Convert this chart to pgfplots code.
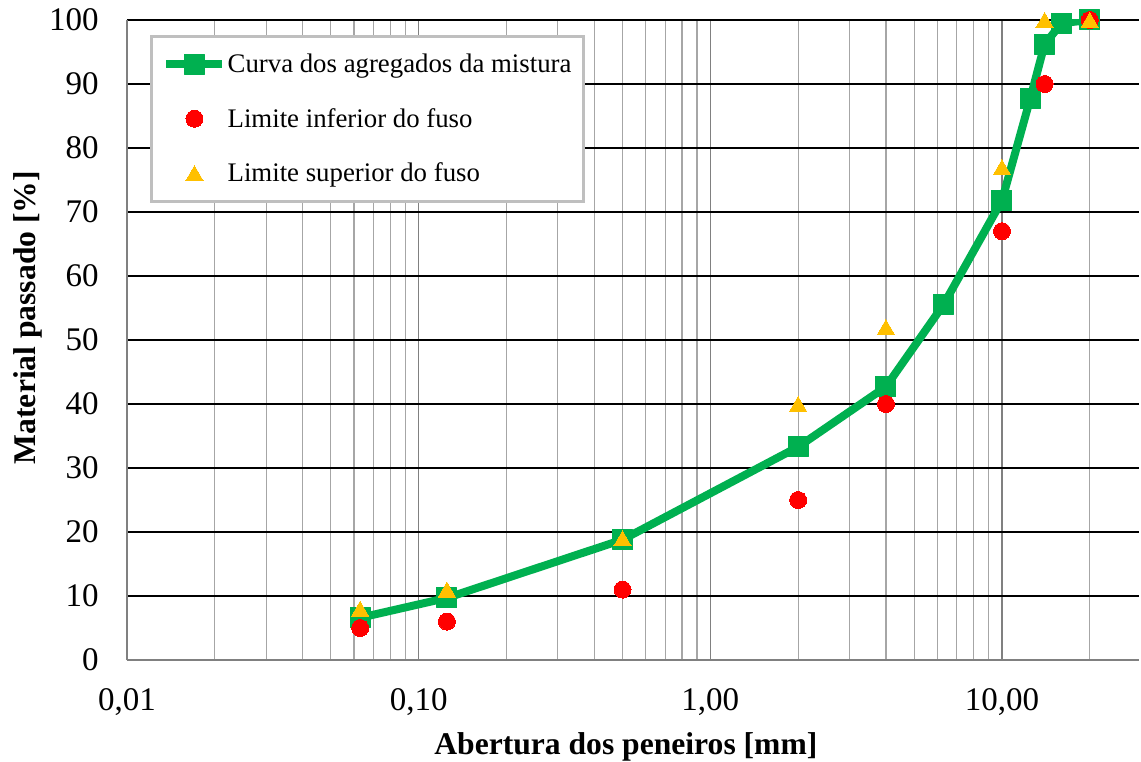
\documentclass[border=0pt]{standalone}
\usepackage{fontspec}
\setmainfont{Liberation Serif}
\usepackage{pgfplots}
\pgfplotsset{compat=1.18}

\definecolor{curva}{HTML}{00B050}
\definecolor{inferior}{HTML}{FF0000}
\definecolor{superior}{HTML}{FFC000}
\definecolor{gridmaj}{HTML}{808080}
\definecolor{gridmin}{HTML}{A6A6A6}
\definecolor{legborder}{HTML}{BFBFBF}

\newcommand{\tickfont}{\fontsize{16.5bp}{19bp}\selectfont}
\newcommand{\labelfont}{\fontsize{15.8bp}{18bp}\selectfont\bfseries}
\newcommand{\legendfont}{\fontsize{13.4bp}{16bp}\selectfont}

\begin{document}
\begin{tikzpicture}
\useasboundingbox (0,0) rectangle (570.5bp,381bp);
\begin{axis}[
  at={(63.5bp,51bp)}, anchor=south west,
  scale only axis, width=506bp, height=320bp,
  xmode=log, xmin=0.01, xmax=29.5,
  ymin=0, ymax=100,
  xtick={0.01,0.1,1,10},
  xticklabels={{0,01},{0,10},{1,00},{10,00}},
  minor xtick={0.02,0.03,0.04,0.05,0.06,0.07,0.08,0.09,
               0.2,0.3,0.4,0.5,0.6,0.7,0.8,0.9,
               2,3,4,5,6,7,8,9,20},
  ytick={0,10,...,100},
  grid=both,
  major x grid style={draw=gridmaj, line width=0.8bp},
  minor x grid style={draw=gridmin, line width=0.6bp},
  major y grid style={draw=black, line width=0.7bp},
  major tick length=0pt, minor tick length=0pt,
  axis lines*=left,
  axis line style={draw=gridmaj, line width=0.8bp},
  /pgf/number format/assume math mode=true,
  tick label style={font=\tickfont},
  yticklabel style={inner sep=0pt, anchor=east, xshift=-14bp},
  xticklabel style={inner sep=0pt, anchor=north, yshift=-14bp},
  xlabel={Abertura dos peneiros [mm]},
  ylabel={Material passado [\%]},
  label style={font=\labelfont, inner sep=0pt},
  xlabel style={at={(axis description cs:0.493,-0.1469)}, anchor=base},
  ylabel style={at={(axis description cs:-0.0909,0.535)}, anchor=base},
  legend cell align=left,
  legend style={
    at={(axis description cs:0.0227,0.977)}, anchor=north west,
    draw=legborder, line width=1.5bp, fill=white,
    inner xsep=5.5bp, inner ysep=5bp, row sep=9.25bp,
    font=\legendfont,
    nodes={inner ysep=1bp, inner xsep=0.6bp, text height=12.3bp, text depth=3.7bp},
  },
  legend image code/.code={
    \draw[mark repeat=2, mark phase=2, #1]
      plot coordinates {(0bp,0bp) (14bp,0bp) (28bp,0bp)};
  },
]
% mistura de agregados
\addplot[curva, line width=4bp, line join=round,
  mark=square*, mark size=5bp,
  mark options={solid, fill=curva, draw=curva, line width=0.5bp, rounded corners=1bp}]
  coordinates {
  (0.063,6.6) (0.125,9.7) (0.5,18.8) (2,33.3) (4,42.7) (6.3,55.5)
  (10,71.8) (12.5,87.7) (14,96.2) (16,99.5) (20,100)
};
\addlegendentry{Curva dos agregados da mistura}
% limite inferior
\addplot[only marks, mark=*, mark size=4.25bp,
  mark options={fill=inferior, draw=inferior, line width=0pt}]
  coordinates {
  (0.063,5) (0.125,6) (0.5,11) (2,25) (4,40) (10,67) (14,90) (20,100)
};
\addlegendentry{Limite inferior do fuso}
% limite superior
\addplot[only marks, mark=triangle*, mark size=5bp,
  mark options={fill=superior, draw=superior, line width=0pt, yshift=-1.25bp}]
  coordinates {
  (0.063,8) (0.125,11) (0.5,19) (2,40) (4,52) (10,77) (14,100) (20,100)
};
\addlegendentry{Limite superior do fuso}
\end{axis}
\end{tikzpicture}
\end{document}
